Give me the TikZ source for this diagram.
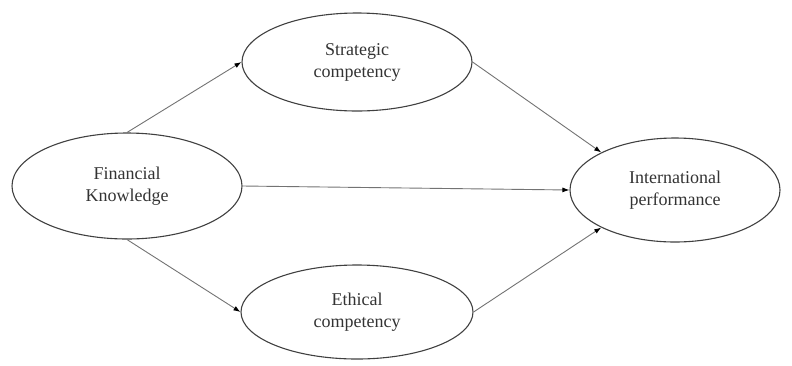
\documentclass[tikz,border=0pt]{standalone}
\usepackage{fontspec}
\setmainfont{Liberation Serif}
\usetikzlibrary{shapes.geometric, arrows.meta}

\tikzset{
  construct/.style={ellipse, draw=black!75, line width=1.1pt, inner sep=0pt,
    align=center, text=black!80, font=\fontsize{18}{22}\selectfont},
  path/.style={->, draw=black!55, line width=0.9pt}
}

\begin{document}
\begin{tikzpicture}[x=1pt, y=-1pt, >={Latex[length=7pt, width=5pt, fill=black, color=black]}]
    \useasboundingbox (0, 0) rectangle (792, 365);
    % constructs
    \node [construct, minimum width=230, minimum height=106] (fk)  at (127, 186) {Financial\\Knowledge};
    \node [construct, minimum width=230, minimum height=98]  (sc)  at (357, 62)  {Strategic\\competency};
    \node [construct, minimum width=232, minimum height=94]  (ec)  at (357, 312) {Ethical\\competency};
    \node [construct, minimum width=210, minimum height=104] (ip)  at (675, 190) {International\\performance};
    % paths
    \draw [path]     (fk.north) -- (sc.west);
    \draw [path]     (fk.south) -- (ec.west);
    \draw [path]     (fk.east)  -- (ip.west);
    \draw [path]     (sc.east)  -- (ip.153);
    \draw [path]     (ec.east)  -- (ip.207);
  \end{tikzpicture}
\end{document}
